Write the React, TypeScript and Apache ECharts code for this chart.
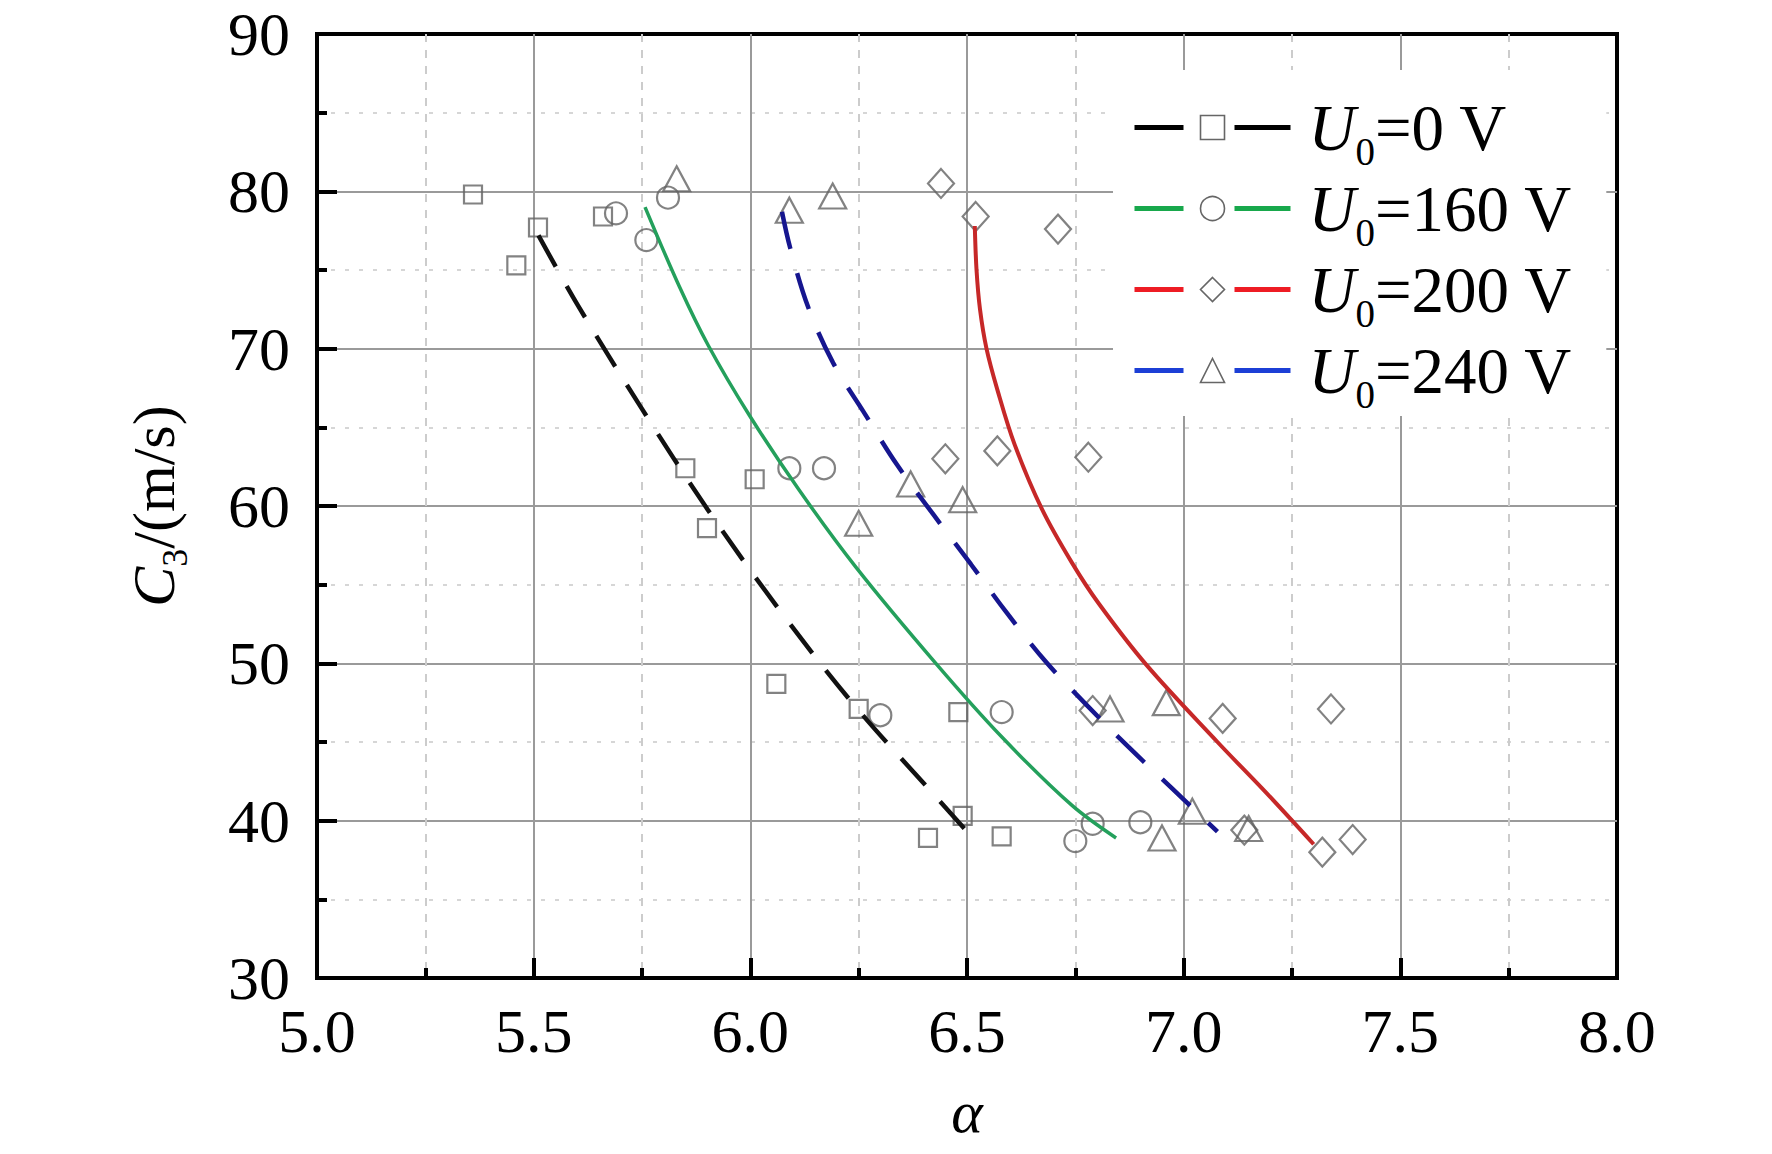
import React, { useEffect, useRef } from "react";
import * as echarts from "echarts";

const FONT = "'Liberation Serif', 'Times New Roman', serif";

const seriesNames = ["U0=0 V", "U0=160 V", "U0=200 V", "U0=240 V"];
const xTicks = { min: 5, max: 8, interval: 0.5 };
const yTicks = { min: 30, max: 90, interval: 10 };

// measured points (alpha, C3)
const points0V = [
  [5.36, 79.8], [5.51, 77.7], [5.46, 75.3], [5.66, 78.4], [5.85, 62.4], [5.9, 58.6],
  [6.01, 61.7], [6.06, 48.7], [6.25, 47.1], [6.48, 46.9], [6.49, 40.3], [6.41, 38.9], [6.58, 39.0],
];
const points160V = [
  [5.69, 78.6], [5.81, 79.6], [5.76, 76.9], [6.09, 62.4], [6.17, 62.4], [6.3, 46.7],
  [6.58, 46.9], [6.79, 39.8], [6.75, 38.7], [6.9, 39.9],
];
const points200V = [
  [6.44, 80.5], [6.52, 78.4], [6.71, 77.6], [6.45, 63.0], [6.57, 63.5], [6.78, 63.1],
  [6.79, 47.0], [7.09, 46.5], [7.34, 47.1], [7.14, 39.4], [7.32, 38.0], [7.39, 38.8],
];
const points240V = [
  [5.83, 80.8], [6.09, 78.8], [6.19, 79.7], [6.37, 61.4], [6.49, 60.4], [6.25, 58.9],
  [6.83, 47.1], [6.96, 47.5], [7.02, 40.6], [6.95, 38.9], [7.15, 39.5],
];

// fitted curves
const fit0V = [
  [5.511, 77.2], [5.601, 72.8], [5.747, 66.3], [5.901, 59.8], [6.067, 53.4],
  [6.235, 47.5], [6.422, 41.7], [6.517, 38.8],
];
const fit160V = [
  [5.757, 79.0], [5.837, 73.9], [5.903, 70.2], [5.997, 65.8], [6.113, 61.0],
  [6.244, 56.1], [6.428, 50.0], [6.581, 45.3], [6.741, 41.0], [6.844, 38.9],
];
const fit200V = [
  [6.518, 77.8], [6.522, 75.0], [6.53, 72.5], [6.545, 70.0], [6.57, 67.4], [6.61, 63.9],
  [6.673, 59.8], [6.742, 56.4], [6.804, 53.8], [6.914, 49.9], [7.078, 45.0], [7.193, 41.7],
  [7.3, 38.5],
];
const fit240V = [
  [6.073, 78.7], [6.092, 76.4], [6.134, 72.6], [6.191, 69.1], [6.261, 66.0], [6.339, 62.6],
  [6.424, 59.4], [6.509, 56.3], [6.592, 53.2], [6.682, 50.1], [6.778, 47.3], [6.872, 44.7],
  [6.975, 42.0], [7.078, 39.3],
];

const pointSets = [points0V, points160V, points200V, points240V];
const fitSets = [fit0V, fit160V, fit200V, fit240V];
const symbols = ["rect", "circle", "diamond", "triangle"];
const symbolSizes: any[] = [18, 22, [26, 29], [27, 25]];
const curveColors = ["#111111", "#24a05c", "#c62828", "#16168f"];
const curveWidths = [4.5, 3.5, 4, 4.5];
const curveTypes: any[] = [[36, 22], "solid", "solid", [38, 25]];
const legendColors = ["#000000", "#18a84c", "#ee1c24", "#1c3fd6"];

export default function App() {
  const ref = useRef<HTMLDivElement>(null);
  useEffect(() => {
    if (!ref.current) return;
    const chart = echarts.init(ref.current, undefined, { renderer: "svg" });

    const lineSeries = seriesNames.map((name, i) => ({
      name,
      type: "line",
      data: fitSets[i],
      smooth: 0.35,
      symbol: symbols[i],
      showSymbol: false,
      z: 3,
      lineStyle: { color: curveColors[i], width: curveWidths[i], type: curveTypes[i] },
      itemStyle: { color: curveColors[i] },
    }));
    const scatterSeries = seriesNames.map((name, i) => ({
      name,
      type: "scatter",
      data: pointSets[i],
      symbol: symbols[i],
      symbolSize: symbolSizes[i],
      z: 2,
      itemStyle: { color: "rgba(0,0,0,0)", borderColor: "#636363", borderWidth: 2.2 },
    }));

    const axisCommon = {
      type: "value",
      axisLine: { show: true, lineStyle: { color: "#000", width: 4 } },
      axisTick: { show: true, inside: true, length: 20, lineStyle: { color: "#000", width: 4 } },
      minorTick: { show: true, splitNumber: 2, length: 10, lineStyle: { color: "#000", width: 4 } },
    };

    chart.setOption({
      animation: false,
      backgroundColor: "#fff",
      textStyle: { fontFamily: FONT },
      grid: {
        left: 317,
        right: 155,
        top: 34,
        bottom: 176,
        show: true,
        borderColor: "#000",
        borderWidth: 4,
        backgroundColor: "transparent",
        containLabel: false,
        outerBoundsMode: "none",
      },
      xAxis: {
        ...axisCommon,
        min: xTicks.min,
        max: xTicks.max,
        interval: xTicks.interval,
        name: "α",
        nameLocation: "middle",
        nameGap: 104,
        nameTextStyle: { fontFamily: FONT, fontSize: 60, fontStyle: "italic", color: "#000" },
        axisLabel: {
          margin: 22,
          fontFamily: FONT,
          fontSize: 62,
          color: "#000",
          formatter: (v: number) => v.toFixed(1),
        },
        splitLine: {
          show: true,
          showMinLine: false,
          showMaxLine: false,
          lineStyle: { color: "#9a9a9a", width: 2 },
        },
        minorSplitLine: { show: true, lineStyle: { color: "#cccccc", width: 2, type: [8, 8] } },
      },
      yAxis: {
        ...axisCommon,
        min: yTicks.min,
        max: yTicks.max,
        interval: yTicks.interval,
        name: "{c|C}{s|3}{t|/(m/s)}",
        nameLocation: "middle",
        nameRotate: 90,
        nameGap: 133,
        nameTextStyle: {
          fontFamily: FONT,
          fontSize: 60,
          color: "#000",
          rich: {
            c: { fontFamily: FONT, fontSize: 60, lineHeight: 60, fontStyle: "italic", color: "#000" },
            s: { fontFamily: FONT, fontSize: 36, lineHeight: 36, padding: [42, 0, 0, 0], color: "#000" },
            t: { fontFamily: FONT, fontSize: 60, lineHeight: 60, color: "#000" },
          },
        },
        axisLabel: { margin: 27, fontFamily: FONT, fontSize: 62, color: "#000" },
        splitLine: {
          show: true,
          showMinLine: false,
          showMaxLine: false,
          lineStyle: { color: "#9a9a9a", width: 2 },
        },
        minorSplitLine: { show: true, lineStyle: { color: "#d6d6d6", width: 2, type: [4, 10] } },
      },
      legend: {
        orient: "vertical",
        left: 1113,
        top: 70,
        itemWidth: 156,
        itemHeight: 30,
        itemGap: -6,
        padding: [14, 34, 2, 19],
        backgroundColor: "#fff",
        selectedMode: false,
        data: seriesNames.map((name, i) => ({
          name,
          itemStyle: { color: "#fff", borderColor: "#666", borderWidth: 1.6 },
          lineStyle: { color: legendColors[i], width: 5, type: [49, 51, 56, 1] },
        })),
        formatter: (name: string) => `{g| }{u|U}{s|0}{t|${name.slice(2)}}`,
        textStyle: {
          fontFamily: FONT,
          fontSize: 65,
          color: "#000",
          rich: {
            g: { width: 13, fontSize: 65, lineHeight: 65, fontFamily: FONT },
            u: { fontFamily: FONT, fontSize: 65, lineHeight: 65, fontStyle: "italic", color: "#000" },
            s: { fontFamily: FONT, fontSize: 39, lineHeight: 39, padding: [48, 0, 0, 0], color: "#000" },
            t: { fontFamily: FONT, fontSize: 65, lineHeight: 65, color: "#000" },
          },
        },
      },
      series: [...lineSeries, ...scatterSeries],
    });
    return () => chart.dispose();
  }, []);
  return (
    <div
      ref={ref}
      style={{ position: "fixed", left: 0, top: 0, width: 1772, height: 1154, background: "#fff" }}
    />
  );
}
